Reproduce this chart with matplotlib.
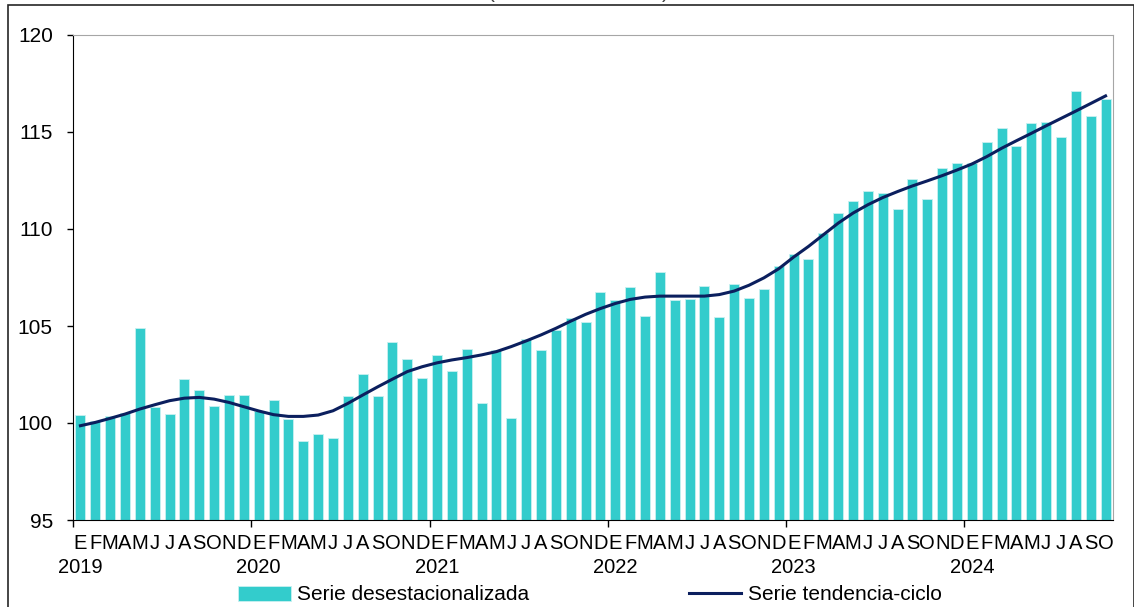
import matplotlib
matplotlib.use('Agg')
from matplotlib import pyplot as plt
from matplotlib.patches import Rectangle

plt.rcParams['font.family'] = ['Liberation Sans', 'DejaVu Sans']

meses = ['E', 'F', 'M', 'A', 'M', 'J', 'J', 'A', 'S', 'O', 'N', 'D']
anios = ['2019', '2020', '2021', '2022', '2023', '2024']

desest = [
    100.41, 100.12, 100.36, 100.51, 104.89, 100.84, 100.44, 102.26, 101.71, 100.89, 101.45, 101.44,
    100.63, 101.21, 100.20, 99.09, 99.45, 99.23, 101.40, 102.50, 101.40, 104.19, 103.29, 102.33,
    103.49, 102.69, 103.80, 101.04, 103.76, 100.26, 104.31, 103.76, 104.78, 105.42, 105.22, 106.74,
    106.32, 107.02, 105.51, 107.77, 106.35, 106.37, 107.05, 105.46, 107.14, 106.45, 106.93, 108.10,
    108.70, 108.44, 109.77, 110.80, 111.43, 111.97, 111.83, 111.01, 112.56, 111.57, 113.15, 113.40,
    113.40, 114.50, 115.22, 114.28, 115.46, 115.50, 114.76, 117.10, 115.83, 116.72,
]

tendencia = [
    99.86, 100.03, 100.24, 100.46, 100.72, 100.94, 101.15, 101.28, 101.32, 101.23, 101.06, 100.84,
    100.62, 100.43, 100.34, 100.34, 100.41, 100.63, 101.01, 101.44, 101.86, 102.26, 102.65, 102.90,
    103.10, 103.25, 103.37, 103.51, 103.68, 103.94, 104.23, 104.54, 104.88, 105.25, 105.60, 105.90,
    106.16, 106.37, 106.49, 106.54, 106.54, 106.54, 106.54, 106.62, 106.80, 107.10, 107.48, 107.95,
    108.55, 109.10, 109.70, 110.30, 110.82, 111.25, 111.62, 111.93, 112.22, 112.48, 112.75, 113.04,
    113.35, 113.73, 114.16, 114.55, 114.93, 115.32, 115.70, 116.08, 116.47, 116.86,
]

n = len(desest)
x = list(range(n))
etiquetas = []
for i in x:
    m = meses[i % 12]
    if i % 12 == 0:
        m = m + '\n' + anios[i // 12]
    etiquetas.append(m)

fig = plt.figure(figsize=(11.34, 6.07), dpi=100)
ax = fig.add_axes([73 / 1134, 1 - 520 / 607, 1040 / 1134, 485 / 607])

barras = ax.bar(x, desest, width=0.68, color='#33CCCC', edgecolor='#C8F0F0', linewidth=0.6,
                label='Serie desestacionalizada')
linea, = ax.plot(x, tendencia, color='#0B1F5E', linewidth=2.2, label='Serie tendencia-ciclo')

ax.set_xlim(-0.5, n - 0.5)
ax.set_ylim(95, 120)
ax.set_yticks([95, 100, 105, 110, 115, 120])

ax.set_xticks([i - 0.5 for i in range(0, n, 12)])
ax.set_xticklabels([])
ax.set_xticks(x, minor=True)
ax.set_xticklabels(etiquetas, minor=True)
ax.tick_params(axis='x', which='major', direction='out', length=5, width=1)
ax.tick_params(axis='x', which='minor', length=0, pad=10, labelsize=14.5)
ax.tick_params(axis='y', direction='out', length=4.5, width=1, pad=10, labelsize=15)

for lbl in ax.get_xticklabels(minor=True):
    lbl.set_linespacing(1.35)

ax.spines['left'].set_color('black')
ax.spines['bottom'].set_color('black')
ax.spines['top'].set_color('#A6A6A6')
ax.spines['right'].set_color('#A6A6A6')

ax.legend([barras, linea], ['Serie desestacionalizada', 'Serie tendencia-ciclo'],
          loc='center', bbox_to_anchor=(590 / 1134, 1 - 595 / 607), bbox_transform=fig.transFigure,
          ncol=2, frameon=False, fontsize=15, handlelength=2.5, handletextpad=0.3,
          columnspacing=7.7, borderaxespad=0)

fig.text(578 / 1134, 1 + 2 / 607, '(Índice 2018 = 100)', ha='center', va='baseline',
         fontsize=15, color='#404040')
fig.patches.append(Rectangle((8 / 1134, -0.05), 1125.5 / 1134, 1.05 - 5 / 607,
                             transform=fig.transFigure, fill=False, edgecolor='#262626',
                             linewidth=1.2))

fig.savefig('out.png', dpi=100)
